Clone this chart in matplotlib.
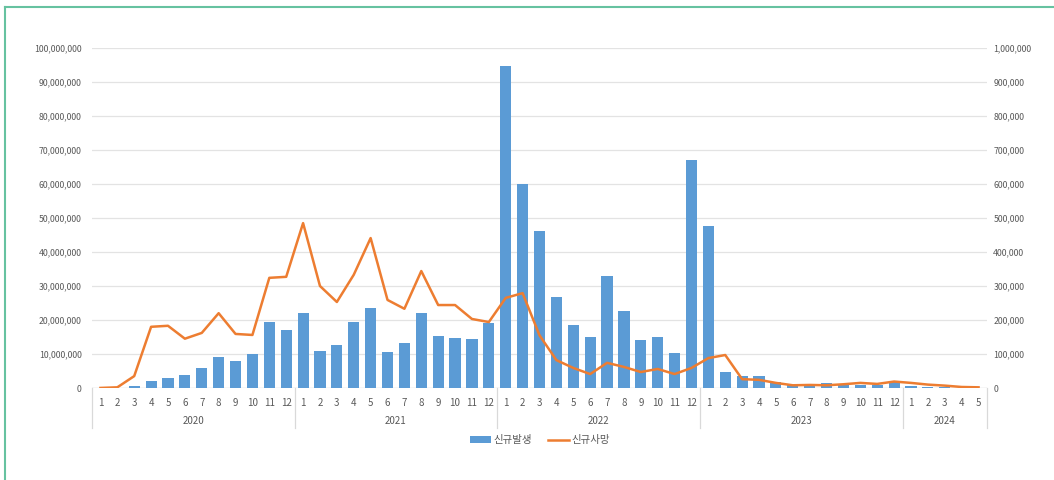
import matplotlib
matplotlib.use("Agg")
import matplotlib.pyplot as plt
from matplotlib.patches import Patch
from matplotlib.lines import Line2D
import matplotlib.ticker as mticker

plt.rcParams['font.family'] = ['Noto Sans CJK KR', 'DejaVu Sans']

years = ["2020", "2021", "2022", "2023", "2024"]
months_per_year = [12, 12, 12, 12, 5]
month_labels = [str(m) for n in months_per_year for m in range(1, n + 1)]

# 신규발생 (new cases), left axis
new_cases = [
    0.1e6, 0.1e6, 0.6e6, 2.1e6, 3.0e6, 3.9e6, 6.0e6, 9.1e6, 8.0e6, 10.1e6, 19.5e6, 17.1e6,
    22.1e6, 11.0e6, 12.7e6, 19.5e6, 23.6e6, 10.7e6, 13.3e6, 22.1e6, 15.3e6, 14.8e6, 14.5e6, 19.2e6,
    94.6e6, 59.9e6, 46.2e6, 26.8e6, 18.6e6, 15.1e6, 33.0e6, 22.7e6, 14.1e6, 15.0e6, 10.4e6, 67.1e6,
    47.7e6, 4.8e6, 3.5e6, 3.5e6, 1.8e6, 0.9e6, 1.0e6, 1.5e6, 0.9e6, 0.9e6, 0.9e6, 1.8e6,
    0.7e6, 0.4e6, 0.3e6, 0.1e6, 0.05e6,
]

# 신규사망 (new deaths), right axis
new_deaths = [
    200, 2000, 35000, 180000, 183000, 145000, 162000, 220000, 159000, 156000, 324000, 327000,
    485000, 300000, 253000, 333000, 441000, 259000, 233000, 344000, 244000, 244000, 203000, 194000,
    265000, 279000, 155000, 82000, 59000, 41000, 74000, 62000, 47000, 56000, 41000, 59000,
    88000, 97000, 26000, 24000, 15000, 8000, 9000, 8000, 11000, 15000, 12000, 19000,
    15000, 10000, 7000, 3000, 2000,
]

W, H = 1054, 480
fig = plt.figure(figsize=(W / 100, H / 100), dpi=100)

# green frame
fig.add_artist(Line2D([5 / W, 1], [1 - 7 / H, 1 - 7 / H], color="#66C2A0", lw=1.5))
fig.add_artist(Line2D([5 / W, 5 / W], [0, 1 - 7 / H], color="#66C2A0", lw=1.5))

x0, x1, ytop, ybot = 92, 987, 48, 388
ax = fig.add_axes([x0 / W, 1 - ybot / H, (x1 - x0) / W, (ybot - ytop) / H])
ax2 = ax.twinx()

n = len(new_cases)
xs = list(range(n))
bar_color = "#5B9BD5"
line_color = "#ED7D31"
text_color = "#595959"

ax.bar(xs, new_cases, width=0.66, color=bar_color, zorder=2)
ax2.plot(xs, new_deaths, color=line_color, lw=1.8, zorder=3)

ax.set_xlim(-0.5, n - 0.5)
ax.set_ylim(0, 100e6)
ax2.set_ylim(0, 1e6)
ax.set_yticks([i * 10e6 for i in range(11)])
ax2.set_yticks([i * 100e3 for i in range(11)])
fmt = mticker.FuncFormatter(lambda v, p: f"{int(v):,}")
ax.yaxis.set_major_formatter(fmt)
ax2.yaxis.set_major_formatter(fmt)

ax.grid(axis="y", color="#E3E3E3", lw=0.9, zorder=0)
ax.set_axisbelow(True)
for a in (ax, ax2):
    for s in a.spines.values():
        s.set_visible(False)
ax.tick_params(axis="y", length=0, pad=7.5, labelsize=6.3, labelcolor=text_color)
ax2.tick_params(axis="y", length=0, pad=4.5, labelsize=6.3, labelcolor=text_color)

ax.set_xticks(xs)
ax.set_xticklabels(month_labels)
ax.tick_params(axis="x", length=0, pad=7, labelsize=7, labelcolor=text_color)

# baseline
ax.axhline(0, color="#D9D9D9", lw=0.9, zorder=1)

# year separators and labels
trans = ax.get_xaxis_transform()
sep_bottom = -40 / (ybot - ytop)
pos = -0.5
bounds = [pos]
for cnt in months_per_year:
    pos += cnt
    bounds.append(pos)
for b in bounds:
    ax.plot([b, b], [0, sep_bottom], transform=trans, color="#D9D9D9", lw=0.9, clip_on=False)
for i, yr in enumerate(years):
    mid = (bounds[i] + bounds[i + 1]) / 2
    ax.text(mid, -33 / (ybot - ytop), yr, transform=trans, ha="center", va="center",
            fontsize=7, color=text_color)

handles = [Patch(facecolor=bar_color, edgecolor="none"),
           Line2D([0], [0], color=line_color, lw=1.8)]
fig.legend(handles, ["신규발생", "신규사망"], loc="center", ncol=2, frameon=False,
           bbox_to_anchor=(540 / W, 1 - 440 / H), fontsize=7.5, labelcolor=text_color,
           handlelength=2.0, handleheight=0.6, columnspacing=1.5, handletextpad=0.3)

fig.savefig("out.png", dpi=100, facecolor="white")
